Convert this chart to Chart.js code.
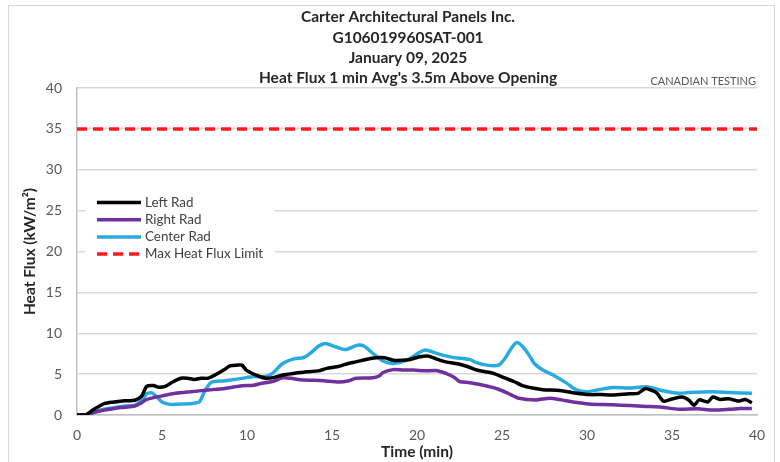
<!DOCTYPE html>
<html><head><meta charset="utf-8">
<script src="https://cdn.jsdelivr.net/npm/chart.js@4"></script>
<style>
html,body{margin:0;padding:0;background:#fff;}
#wrap{position:relative;width:780px;height:462px;overflow:hidden;background:#fff;}
#frame{position:absolute;left:8px;top:5px;width:767px;height:480px;border:1px solid #d9d9d9;box-sizing:border-box;}
canvas{position:absolute;left:0;top:0;}
</style></head><body>
<div id="wrap"><div id="frame"></div><canvas id="c" width="780" height="462"></canvas></div>
<script>
const titleLines = ["Carter Architectural Panels Inc.", "G106019960SAT-001", "January 09, 2025", "Heat Flux 1 min Avg's 3.5m Above Opening"];
const brandText = "CANADIAN TESTING";
const seriesNames = ["Left Rad", "Right Rad", "Center Rad", "Max Heat Flux Limit"];

const leftTime = [0,0.5,1.0,1.6,2.2,2.8,3.4,3.8,4.1,4.5,4.8,5.2,5.6,6.1,6.5,6.9,7.3,7.7,8.3,8.7,9.0,9.4,9.7,9.95,10.2,10.5,11.1,11.6,12.1,12.8,13.5,14.2,14.7,15.3,15.8,16.4,17.0,17.6,18.1,18.6,19.1,19.6,20.1,20.7,21.2,21.7,22.5,23.0,23.5,24.0,24.5,25.2,25.7,26.2,26.8,27.4,28.4,29.3,30.1,30.8,31.5,32.5,33.0,33.45,33.8,34.1,34.5,35.0,35.6,36.0,36.3,36.6,37.1,37.4,37.85,38.35,38.9,39.3,39.7];
const leftFlux = [0,0,0.7,1.4,1.6,1.75,1.8,2.3,3.5,3.6,3.4,3.5,4.0,4.5,4.5,4.35,4.5,4.5,5.1,5.6,6.0,6.1,6.1,5.5,5.2,4.9,4.5,4.6,4.9,5.1,5.3,5.4,5.7,5.9,6.2,6.5,6.8,7.0,7.0,6.7,6.7,6.8,7.1,7.2,6.8,6.5,6.2,5.9,5.5,5.3,5.1,4.5,4.1,3.6,3.3,3.1,3.0,2.7,2.5,2.5,2.45,2.6,2.65,3.25,3.0,2.7,1.7,1.95,2.2,1.8,1.2,1.85,1.6,2.2,1.9,2.0,1.7,1.9,1.5];

const rightTime = [0,0.6,1.0,1.6,2.2,2.8,3.4,3.8,4.1,4.8,5.8,6.7,7.7,8.7,9.6,10.4,10.8,11.5,12.1,12.6,13.1,14.0,14.5,15.4,16.0,16.4,17.4,17.8,18.0,18.6,19.2,19.8,20.5,21.1,21.7,22.2,22.5,23.1,24.1,24.8,25.4,26.0,27.0,27.8,28.5,29.3,30.1,31.5,32.5,33.5,34.4,35.4,36.5,37.4,38.4,39.0,39.7];
const rightFlux = [0,0,0.3,0.6,0.8,0.95,1.1,1.5,1.9,2.25,2.65,2.85,3.05,3.25,3.55,3.65,3.85,4.1,4.55,4.5,4.3,4.25,4.2,4.05,4.2,4.5,4.55,4.8,5.2,5.55,5.5,5.5,5.4,5.45,5.1,4.6,4.1,3.95,3.55,3.15,2.6,2.05,1.85,2.05,1.85,1.55,1.35,1.25,1.15,1.05,0.95,0.7,0.75,0.6,0.7,0.8,0.8];

const centerTime = [0,0.5,1.0,1.6,2.2,2.8,3.4,3.8,4.1,4.4,4.7,5.0,5.5,6.3,6.9,7.2,7.5,7.9,8.7,9.6,10.4,11.1,11.5,12.1,12.8,13.3,13.7,14.2,14.6,15.2,15.8,16.3,16.6,16.9,17.4,18.0,18.6,19.4,20.1,20.5,21.3,22.1,23.1,23.5,24.1,24.8,25.2,25.5,25.85,26.2,26.6,26.9,27.4,28.0,28.8,29.3,30.0,30.7,31.5,32.5,33.5,34.4,35.4,36.0,37.4,38.4,39.7];
const centerFlux = [0,0,0.4,0.7,0.9,1.1,1.2,1.8,2.6,2.7,2.2,1.6,1.3,1.35,1.45,1.6,2.85,4.0,4.2,4.45,4.7,4.7,5.1,6.3,6.9,7.0,7.5,8.4,8.75,8.35,8.0,8.4,8.55,8.4,7.55,6.6,6.3,6.7,7.6,7.95,7.45,7.05,6.8,6.4,6.1,6.1,7.0,8.0,8.85,8.4,7.3,6.3,5.5,4.9,3.9,3.15,2.85,3.1,3.35,3.3,3.45,3.0,2.65,2.75,2.85,2.75,2.65];

const limitTime = [0, 40];
const limitFlux = [35, 35];

const xTicks = [0,5,10,15,20,25,30,35,40];
const yTicks = [0,5,10,15,20,25,30,35,40];

const FONT = "Lato";
const pts = (t, v) => t.map((x, i) => ({x: x, y: v[i]}));

const titlePlugin = {
  id: 'titles',
  afterDraw(chart) {
    const ctx = chart.ctx;
    ctx.save();
    ctx.fillStyle = '#262626';
    ctx.font = 'bold 15.5px ' + FONT;
    ctx.textAlign = 'center';
    ctx.textBaseline = 'middle';
    const ys = [17, 38, 58, 78];
    titleLines.forEach((t, i) => ctx.fillText(t, 408, ys[i]));
    ctx.font = '11px ' + FONT;
    ctx.fillStyle = '#595959';
    ctx.textAlign = 'right';
    ctx.fillText(brandText, 756, 81);
    ctx.restore();
  }
};

const legendPlugin = {
  id: 'boxLegend',
  afterDatasetsDraw(chart) {
    const ctx = chart.ctx;
    ctx.save();
    ctx.fillStyle = '#ffffff';
    ctx.fillRect(85, 186, 190, 78);
    ctx.font = '13.4px ' + FONT;
    ctx.textBaseline = 'middle';
    ctx.textAlign = 'left';
    chart.data.datasets.forEach((ds, i) => {
      const y = 202.5 + i * 17.2;
      ctx.strokeStyle = ds.borderColor;
      ctx.lineWidth = ds.borderWidth;
      ctx.setLineDash(ds.borderDash || []);
      ctx.beginPath();
      ctx.moveTo(97, y);
      ctx.lineTo(141, y);
      ctx.stroke();
      ctx.setLineDash([]);
      ctx.fillStyle = '#404040';
      ctx.fillText(ds.label, 145, y);
    });
    ctx.restore();
  }
};

new Chart(document.getElementById('c'), {
  type: 'line',
  data: {
    datasets: [
      {label: seriesNames[0], data: pts(leftTime, leftFlux), borderColor: '#000000', borderWidth: 3.5, pointRadius: 0, tension: 0.25, fill: false},
      {label: seriesNames[1], data: pts(rightTime, rightFlux), borderColor: '#7030a0', borderWidth: 3.5, pointRadius: 0, tension: 0.25, fill: false},
      {label: seriesNames[2], data: pts(centerTime, centerFlux), borderColor: '#29abe2', borderWidth: 3.5, pointRadius: 0, tension: 0.25, fill: false},
      {label: seriesNames[3], data: pts(limitTime, limitFlux), borderColor: '#ff1a1a', borderWidth: 3.5, borderDash: [10, 6], pointRadius: 0, fill: false}
    ]
  },
  options: {
    responsive: false,
    animation: false,
    devicePixelRatio: 1,
    layout: {padding: {top: 88, right: 23, left: 0, bottom: 0}},
    plugins: {legend: {display: false}, tooltip: {enabled: false}, title: {display: false}},
    scales: {
      x: {
        type: 'linear', min: 0, max: 40,
        afterFit(s) { s.height = 47; },
        afterBuildTicks(s) { s.ticks = xTicks.map(v => ({value: v})); },
        grid: {display: false, drawTicks: false},
        border: {display: true, color: '#bfbfbf', width: 1.5},
        ticks: {padding: 12, color: '#595959', font: {family: FONT, size: 14}},
        title: {display: true, text: 'Time (min)', color: '#262626', font: {family: FONT, size: 15.5, weight: 'bold'}, padding: {top: 0, bottom: 1}}
      },
      y: {
        min: 0, max: 40,
        afterFit(s) { s.width = 77; },
        afterBuildTicks(s) { s.ticks = yTicks.map(v => ({value: v})); },
        grid: {color: '#d9d9d9', lineWidth: 1.5, drawTicks: false},
        border: {display: true, color: '#bfbfbf', width: 1.5},
        ticks: {padding: 15, color: '#595959', font: {family: FONT, size: 14}},
        title: {display: true, text: 'Heat Flux (kW/m²)', color: '#262626', font: {family: FONT, size: 15.5, weight: 'bold'}, padding: {top: 21, bottom: 0}}
      }
    }
  },
  plugins: [titlePlugin, legendPlugin]
});
</script>
</body></html>
